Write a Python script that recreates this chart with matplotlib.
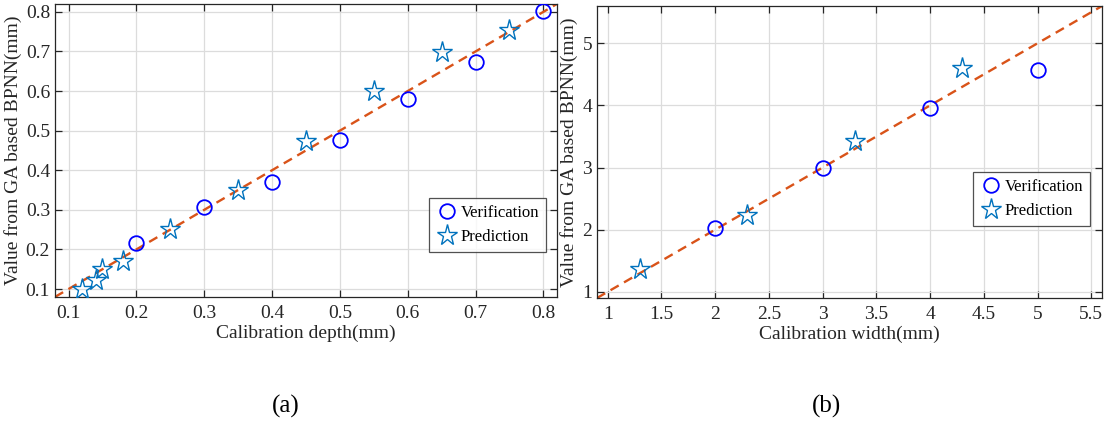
import numpy as np
import matplotlib
matplotlib.use('Agg')
import matplotlib.pyplot as plt

plt.rcParams['font.family'] = ['Liberation Serif', 'DejaVu Serif']
plt.rcParams['mathtext.fontset'] = 'stix'

# (a) depth
ver_depth_x = [0.2, 0.3, 0.4, 0.5, 0.6, 0.7, 0.8]
ver_depth_y = [0.215, 0.308, 0.370, 0.477, 0.581, 0.674, 0.801]
pre_depth_x = [0.12, 0.14, 0.15, 0.18, 0.25, 0.35, 0.45, 0.55, 0.65, 0.75]
pre_depth_y = [0.100, 0.123, 0.150, 0.171, 0.251, 0.349, 0.473, 0.600, 0.699, 0.754]

# (b) width
ver_width_x = [2, 3, 4, 5]
ver_width_y = [2.03, 3.00, 3.96, 4.57]
pre_width_x = [1.3, 2.3, 3.3, 4.3]
pre_width_y = [1.37, 2.23, 3.42, 4.61]

depth_ticks = [0.1, 0.2, 0.3, 0.4, 0.5, 0.6, 0.7, 0.8]
width_xticks = [1, 1.5, 2, 2.5, 3, 3.5, 4, 4.5, 5, 5.5]
width_yticks = [1, 2, 3, 4, 5]

circ_col = '#0000FF'
star_col = '#0072BD'
line_col = '#D95319'
axis_col = '#262626'

fig = plt.figure(figsize=(11.06, 4.23), dpi=100)
ax1 = fig.add_axes([0.0497, 0.298, 0.4539, 0.6927])
ax2 = fig.add_axes([0.5398, 0.2955, 0.4566, 0.6903])


def style(ax):
    ax.grid(True, color='#dcdcdc', linewidth=0.9)
    ax.set_axisbelow(True)
    ax.tick_params(direction='in', top=True, right=True, length=5,
                   width=0.9, colors=axis_col, labelsize=14)
    ax.tick_params(axis='x', pad=6)
    ax.tick_params(axis='y', pad=3.5)
    for s in ax.spines.values():
        s.set_color(axis_col)
        s.set_linewidth(0.9)


def draw(ax, vx, vy, px, py, lim):
    ax.set_xlim(lim)
    ax.set_ylim(lim)
    xs = np.array(ax.get_xlim())
    ax.plot(xs, xs, color=line_col, linewidth=1.7, linestyle=(0, (4, 2.6)),
            zorder=2)
    ax.plot(vx, vy, 'o', markersize=10.5, markerfacecolor='none',
            markeredgecolor=circ_col, markeredgewidth=1.3,
            label='Verification', zorder=3)
    ax.plot(px, py, '*', markersize=15.5, markerfacecolor='none',
            markeredgecolor=star_col, markeredgewidth=1.0,
            label='Prediction', zorder=3)


draw(ax1, ver_depth_x, ver_depth_y, pre_depth_x, pre_depth_y, (0.08, 0.82))
ax1.set_xticks(depth_ticks)
ax1.set_yticks(depth_ticks)
ax1.set_xlabel('Calibration depth(mm)', fontsize=14, color=axis_col, labelpad=2)
ax1.set_ylabel('Value from GA based BPNN(mm)', fontsize=14, color=axis_col, labelpad=3)
style(ax1)
leg1 = ax1.legend(loc='upper right', bbox_to_anchor=(0.978, 0.338),
                  fontsize=12, fancybox=False, edgecolor=axis_col,
                  handletextpad=0.1, borderpad=0.4, handlelength=1.4,
                  borderaxespad=0)
leg1.get_frame().set_linewidth(0.9)

draw(ax2, ver_width_x, ver_width_y, pre_width_x, pre_width_y, (0.9, 5.6))
ax2.set_xticks(width_xticks)
ax2.set_xticklabels([f'{t:g}' for t in width_xticks])
ax2.set_yticks(width_yticks)
ax2.set_xlabel('Calibration width(mm)', fontsize=14, color=axis_col, labelpad=2)
ax2.set_ylabel('Value from GA based BPNN(mm)', fontsize=14, color=axis_col, labelpad=3)
style(ax2)
leg2 = ax2.legend(loc='upper right', bbox_to_anchor=(0.976, 0.432),
                  fontsize=12, fancybox=False, edgecolor=axis_col,
                  handletextpad=0.1, borderpad=0.4, handlelength=1.4,
                  borderaxespad=0)
leg2.get_frame().set_linewidth(0.9)

fig.text(0.258, 0.04, '(a)', fontsize=18, ha='center', va='center')
fig.text(0.747, 0.04, '(b)', fontsize=18, ha='center', va='center')

fig.savefig('out.png', dpi=100)
